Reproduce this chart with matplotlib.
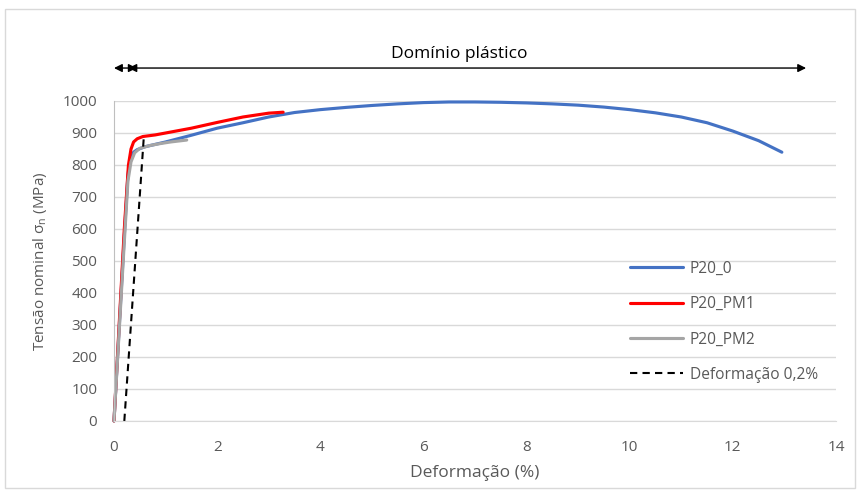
import matplotlib
matplotlib.use("Agg")
import matplotlib.pyplot as plt
from matplotlib.patches import Rectangle

# Data (strain %, stress MPa)
p20_0_x = [0, 0.10, 0.20, 0.27, 0.32, 0.38, 0.45, 0.6, 1.0, 1.5, 2.0, 2.5, 3.0, 3.5, 4.0, 4.5, 5.0, 5.5,
           6.0, 6.5, 7.0, 7.5, 8.0, 8.5, 9.0, 9.5, 10.0, 10.5, 11.0, 11.5, 12.0, 12.5, 12.95]
p20_0_y = [0, 290, 580, 770, 820, 840, 848, 857, 872, 893, 915, 932, 950, 964, 973, 980, 986, 991,
           995, 997, 997, 996, 994, 991, 987, 981, 973, 963, 950, 932, 906, 876, 840]

p20_pm1_x = [0, 0.10, 0.20, 0.28, 0.33, 0.38, 0.45, 0.56, 0.8, 1.0, 1.5, 2.0, 2.5, 3.0, 3.28]
p20_pm1_y = [0, 300, 600, 800, 850, 872, 882, 889, 894, 900, 915, 933, 950, 962, 965]

p20_pm2_x = [0, 0.10, 0.20, 0.27, 0.33, 0.40, 0.50, 0.7, 0.9, 1.1, 1.41]
p20_pm2_y = [0, 280, 560, 750, 810, 838, 852, 861, 867, 872, 878]

offset_x = [0.2, 0.58]
offset_y = [0, 892]

xticks = [0, 2, 4, 6, 8, 10, 12, 14]
yticks = [0, 100, 200, 300, 400, 500, 600, 700, 800, 900, 1000]

text_color = "#595959"
plt.rcParams['font.family'] = ['Open Sans', 'DejaVu Sans']

fig = plt.figure(figsize=(8.6, 4.92), dpi=100)
fig.add_artist(Rectangle((5/860, 1 - 488/492), 850/860, 479/492, transform=fig.transFigure,
                         fill=False, edgecolor="#d9d9d9", linewidth=1))
ax = fig.add_axes([114/860, 1 - 421/492, 722/860, 320/492])

ax.set_xlim(0, 14)
ax.set_ylim(0, 1000)
ax.set_yticks(yticks)
ax.set_xticks(xticks)
ax.grid(axis='y', color="#d9d9d9", linewidth=1)
ax.set_axisbelow(True)
for s in ['top', 'right']:
    ax.spines[s].set_visible(False)
ax.spines['left'].set_color("#bfbfbf")
ax.spines['bottom'].set_color("#d9d9d9")
ax.tick_params(length=0, labelsize=11, colors=text_color)
ax.tick_params(axis='x', pad=14)
ax.tick_params(axis='y', pad=12)

ax.plot(p20_0_x, p20_0_y, color="#4472c4", lw=2.25, label="P20_0", clip_on=False, solid_capstyle='round')
ax.plot(p20_pm1_x, p20_pm1_y, color="#ff0000", lw=2.25, label="P20_PM1", clip_on=False, solid_capstyle='round')
ax.plot(p20_pm2_x, p20_pm2_y, color="#a5a5a5", lw=2.25, label="P20_PM2", clip_on=False, solid_capstyle='round')
ax.plot(offset_x, offset_y, color="black", lw=1.5, ls=(0, (3.5, 2.5)), label="Deformação 0,2%", clip_on=False)

# arrows
ay = 1103
ax.annotate("", xy=(0, ay), xytext=(0.44, ay), xycoords='data',
            arrowprops=dict(arrowstyle="<|-|>", color="black", lw=1, mutation_scale=12,
                            shrinkA=0, shrinkB=0), annotation_clip=False)
ax.annotate("", xy=(13.42, ay), xytext=(0.28, ay), xycoords='data',
            arrowprops=dict(arrowstyle="<|-|>", color="black", lw=1, mutation_scale=12,
                            shrinkA=0, shrinkB=0), annotation_clip=False)
ax.text(6.7, 1148, "Domínio plástico", ha='center', va='center', fontsize=12.5, color="black")

ax.set_xlabel("Deformação (%)", fontsize=12.5, color=text_color, labelpad=7)
ax.set_ylabel(r"Tensão nominal σ$_\mathregular{n}$ (MPa)", fontsize=11, color=text_color, labelpad=10)

leg = ax.legend(loc='upper left', bbox_to_anchor=(0.695, 0.545), frameon=False, fontsize=11.2,
                labelcolor=text_color, handlelength=3.4, labelspacing=1.25, handletextpad=0.45)

fig.savefig("out.png", dpi=100)
